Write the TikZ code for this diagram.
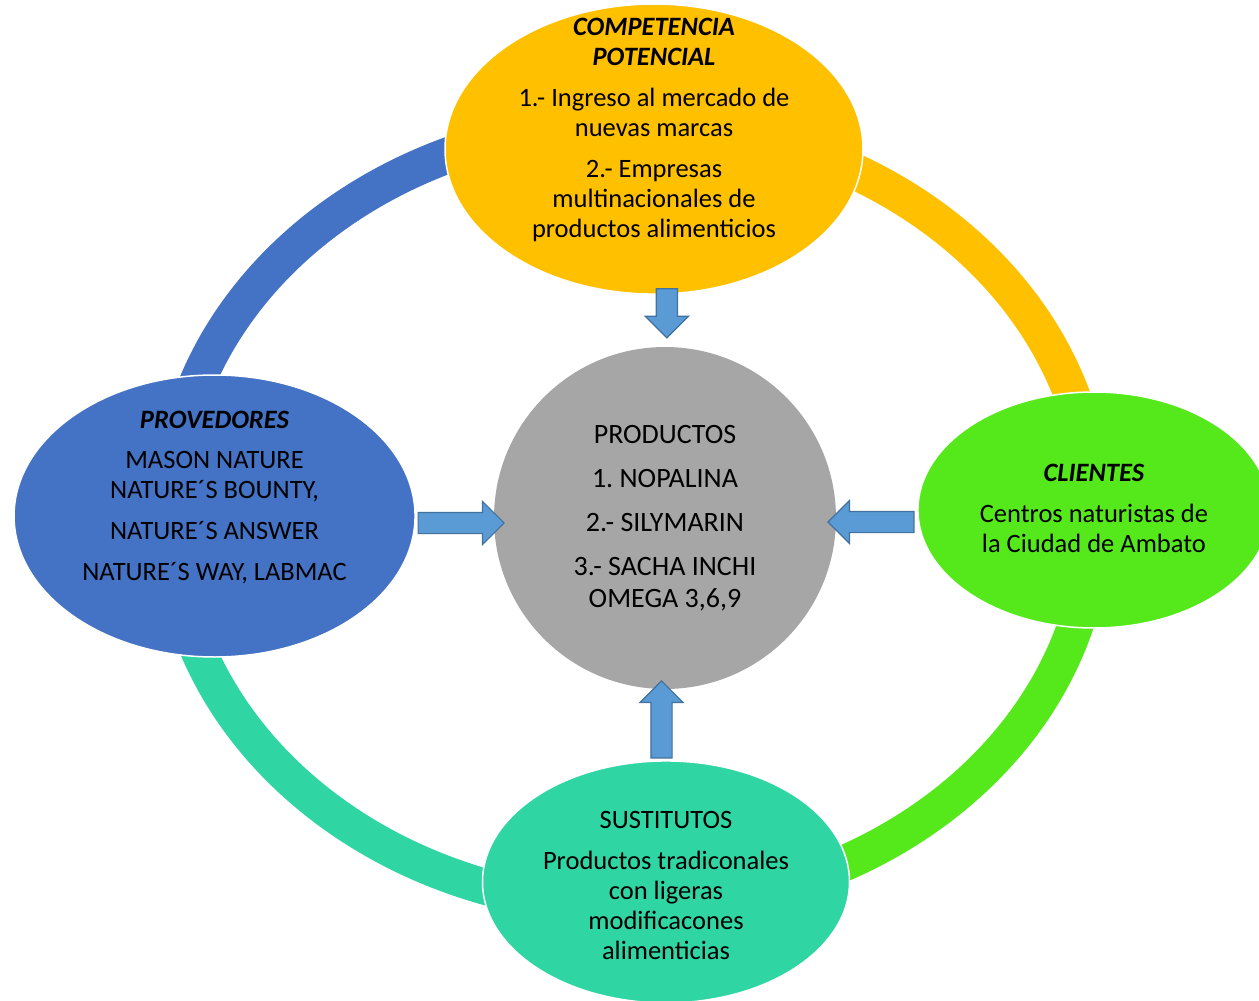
\documentclass[tikz,border=0pt]{standalone}
\usepackage{fontspec}
\setmainfont{Carlito}
\frenchspacing
\usetikzlibrary{shapes.geometric, shapes.arrows, positioning}

\definecolor{amarillo}{HTML}{FFC000}
\definecolor{azul}{HTML}{4472C4}
\definecolor{verde}{HTML}{55E91C}
\definecolor{turquesa}{HTML}{2FD6A3}
\definecolor{gris}{HTML}{A6A6A6}
\definecolor{flechaRelleno}{HTML}{5B9BD5}
\definecolor{flechaBorde}{HTML}{41719C}

\tikzset{
x=1pt, y=-1pt, % one unit is one pixel of the page, y runs down
fuerza/.style={ellipse, draw=white, line width=1.5pt, inner sep=0pt}, % the four forces round the product
aro/.style={line width=36pt}, % segments of the big ring
flecha/.style={single arrow, fill=flechaRelleno, draw=flechaBorde, line width=1.2pt,
  inner sep=10pt, single arrow head extend=11pt}, % block arrows towards the centre
texto/.style={align=center, font=\fontsize{26.5pt}{30pt}\selectfont},
}

\begin{document}
\begin{tikzpicture}
        \useasboundingbox (0,0) rectangle (1259,1001);
        \clip (0,0) rectangle (1259,1001);

        \node[circle, fill=gris, minimum size=342pt, inner sep=0pt] (prod) at (665,518) {};
        \coordinate (anillo) at ([xshift=-33pt, yshift=3pt]prod.center);

        % the ring, one colour per quarter
        \draw[aro, azul] ([yshift=392pt]anillo) arc[start angle=90, end angle=180, x radius=462pt, y radius=392pt];
        \draw[aro, turquesa] ([xshift=-462pt]anillo) arc[start angle=180, end angle=270, x radius=462pt, y radius=392pt];
        \draw[aro, verde] ([yshift=-392pt]anillo) arc[start angle=270, end angle=360, x radius=462pt, y radius=392pt];
        \draw[aro, amarillo] ([xshift=462pt]anillo) arc[start angle=0, end angle=90, x radius=462pt, y radius=392pt];

        \node[fuerza, fill=amarillo, minimum width=418pt, minimum height=290pt, above=52pt of prod, xshift=-11pt] (comp) {};
        \node[fuerza, fill=azul, minimum width=401pt, minimum height=282pt, left=78pt of prod, yshift=2pt] (prov) {};
        \node[fuerza, fill=verde, minimum width=352pt, minimum height=236pt, right=81pt of prod, yshift=8pt] (cli) {};
        \node[fuerza, fill=turquesa, minimum width=367pt, minimum height=242pt, below=71pt of prod, xshift=1pt] (sust) {};

        \node[texto, yshift=19pt] (compT) at (comp) {\textbf{\textit{COMPETENCIA}}\\ \textbf{\textit{POTENCIAL}}\\[11pt]
            1.- Ingreso al mercado de\\ nuevas marcas\\[11pt] 2.- Empresas\\ multinacionales de\\ productos alimenticios};
        \node[texto, yshift=18.5pt] (provT) at (prov) {\textbf{\textit{PROVEDORES}}\\[11pt] MASON NATURE\\ NATURE´S BOUNTY,\\[11pt]
            NATURE´S ANSWER\\[11pt] NATURE´S WAY, LABMAC};
        \node[texto, yshift=1.5pt] (cliT) at (cli) {\textbf{\textit{CLIENTES}}\\[11pt] Centros naturistas de\\ la Ciudad de Ambato};
        \node[texto, yshift=-4pt] (sustT) at (sust) {SUSTITUTOS\\[11pt] Productos tradiconales\\ con ligeras\\ modificacones\\ alimenticias};
        \node[texto, font=\fontsize{28pt}{32pt}\selectfont] (prodT) at (prod) {PRODUCTOS\\[12pt] 1. NOPALINA\\[12pt] 2.- SILYMARIN\\[12pt]
            3.- SACHA INCHI\\ OMEGA 3,6,9};

        % arrows from every force to the product
        \path (comp.south) -- node[flecha, shape border rotate=270, minimum height=49pt, pos=0.35, xshift=9pt, yshift=5pt] (fComp) {} (prod.north);
        \path (prov.east) -- node[flecha, minimum height=86pt, xshift=1pt, yshift=-6pt] (fProv) {} (prod.west);
        \path (cli.west) -- node[flecha, shape border rotate=180, minimum height=86pt, xshift=-0.5pt, yshift=-8pt] (fCli) {} (prod.east);
        \path (sust.north) -- node[flecha, shape border rotate=90, minimum height=77pt, xshift=-4pt, yshift=0pt] (fSust) {} (prod.south);
    \end{tikzpicture}
\end{document}
